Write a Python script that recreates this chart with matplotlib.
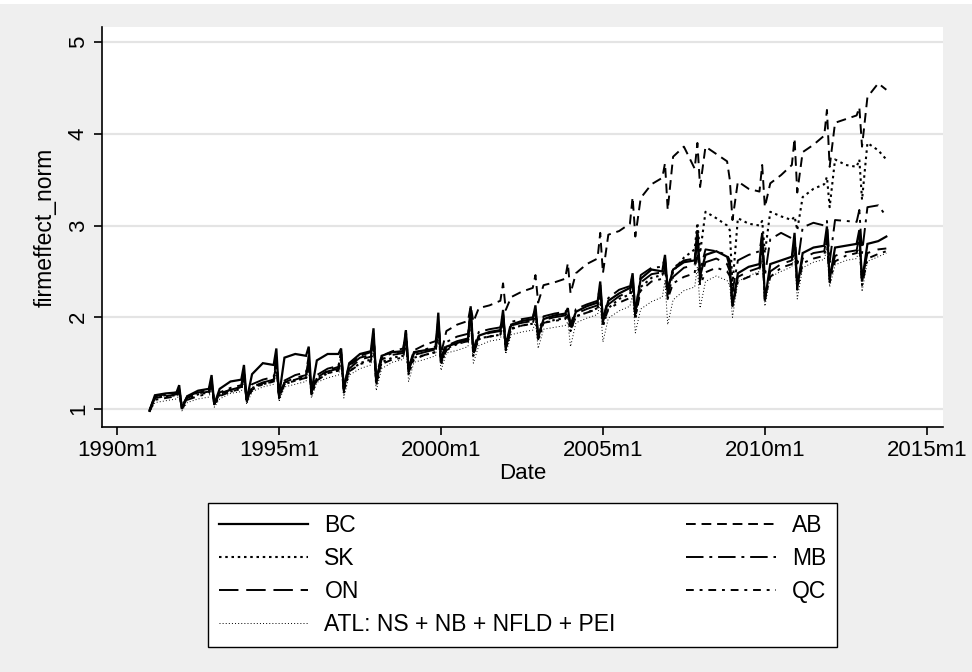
import numpy as np
import matplotlib
matplotlib.use("Agg")
import matplotlib.pyplot as plt
from matplotlib.patches import Rectangle

plt.rcParams["font.family"] = ["Liberation Sans", "DejaVu Sans"]

# x grid: months within each year (Jan, Mar, Jul, Nov, Dec); 2013 ends in Oct
years = list(range(1991, 2014))
months_full = [0, 2, 6, 10, 11]
months_last = [0, 2, 6, 9]

# values, one row per year
bc = [
    [0.98, 1.15, 1.17, 1.18, 1.26], [1.00, 1.14, 1.20, 1.22, 1.37],
    [1.05, 1.22, 1.30, 1.32, 1.48], [1.10, 1.38, 1.50, 1.48, 1.66],
    [1.14, 1.56, 1.60, 1.58, 1.68], [1.19, 1.53, 1.60, 1.60, 1.66],
    [1.22, 1.50, 1.60, 1.63, 1.88], [1.30, 1.58, 1.62, 1.63, 1.86],
    [1.42, 1.62, 1.64, 1.66, 2.05], [1.52, 1.68, 1.72, 1.76, 2.12],
    [1.62, 1.80, 1.84, 1.86, 2.08], [1.66, 1.92, 1.96, 1.98, 2.13],
    [1.78, 1.98, 2.02, 2.04, 2.10], [1.90, 2.06, 2.12, 2.16, 2.39],
    [1.97, 2.18, 2.26, 2.32, 2.48], [2.05, 2.42, 2.52, 2.50, 2.68],
    [2.30, 2.52, 2.60, 2.62, 2.95], [2.45, 2.68, 2.72, 2.66, 2.55],
    [2.12, 2.48, 2.55, 2.58, 2.92], [2.18, 2.58, 2.62, 2.66, 2.92],
    [2.32, 2.70, 2.76, 2.78, 2.99], [2.41, 2.76, 2.78, 2.80, 2.95],
    [2.39, 2.80, 2.83, 2.88],
]
ab = [
    [0.99, 1.14, 1.16, 1.18, 1.22], [1.03, 1.14, 1.18, 1.20, 1.30],
    [1.05, 1.17, 1.21, 1.24, 1.38], [1.10, 1.24, 1.28, 1.32, 1.50],
    [1.13, 1.29, 1.32, 1.36, 1.52], [1.18, 1.34, 1.42, 1.46, 1.62],
    [1.25, 1.48, 1.58, 1.62, 1.80], [1.35, 1.58, 1.63, 1.66, 1.85],
    [1.45, 1.64, 1.70, 1.74, 1.95], [1.60, 1.85, 1.92, 1.96, 2.12],
    [1.95, 2.10, 2.13, 2.18, 2.37], [2.08, 2.22, 2.28, 2.32, 2.46],
    [2.16, 2.35, 2.38, 2.42, 2.59], [2.26, 2.48, 2.58, 2.64, 2.92],
    [2.48, 2.90, 2.94, 3.02, 3.31], [2.88, 3.30, 3.45, 3.52, 3.68],
    [3.17, 3.75, 3.86, 3.62, 3.90], [3.42, 3.86, 3.78, 3.70, 3.50],
    [3.06, 3.48, 3.40, 3.37, 3.66], [3.20, 3.46, 3.55, 3.66, 3.95],
    [3.36, 3.80, 3.88, 3.98, 4.26], [3.64, 4.12, 4.16, 4.20, 4.29],
    [3.86, 4.40, 4.55, 4.48],
]
sk = [
    [0.98, 1.12, 1.14, 1.15, 1.20], [1.00, 1.11, 1.16, 1.18, 1.30],
    [1.05, 1.15, 1.19, 1.22, 1.38], [1.08, 1.23, 1.27, 1.30, 1.50],
    [1.12, 1.27, 1.31, 1.34, 1.52], [1.16, 1.32, 1.39, 1.42, 1.56],
    [1.18, 1.41, 1.50, 1.54, 1.75], [1.26, 1.51, 1.56, 1.58, 1.78],
    [1.38, 1.56, 1.59, 1.62, 1.90], [1.48, 1.66, 1.71, 1.74, 2.00],
    [1.58, 1.77, 1.79, 1.81, 1.98], [1.64, 1.88, 1.91, 1.93, 2.05],
    [1.75, 1.94, 1.97, 1.99, 2.02], [1.85, 2.01, 2.05, 2.10, 2.28],
    [1.90, 2.10, 2.20, 2.25, 2.38], [1.98, 2.33, 2.43, 2.46, 2.60],
    [2.20, 2.50, 2.65, 2.74, 3.03], [2.70, 3.15, 3.08, 3.00, 2.95],
    [2.35, 3.08, 3.02, 3.00, 3.05], [2.70, 3.15, 3.10, 3.06, 3.10],
    [2.95, 3.31, 3.40, 3.45, 3.53], [3.20, 3.72, 3.66, 3.64, 3.72],
    [3.28, 3.90, 3.82, 3.72],
]
mb = [
    [0.98, 1.13, 1.15, 1.17, 1.22], [1.02, 1.13, 1.19, 1.21, 1.32],
    [1.06, 1.18, 1.23, 1.26, 1.42], [1.10, 1.27, 1.32, 1.35, 1.55],
    [1.14, 1.31, 1.37, 1.40, 1.58], [1.18, 1.37, 1.44, 1.47, 1.60],
    [1.22, 1.47, 1.56, 1.59, 1.82], [1.32, 1.56, 1.61, 1.63, 1.82],
    [1.44, 1.61, 1.65, 1.68, 1.98], [1.55, 1.73, 1.79, 1.82, 2.05],
    [1.65, 1.84, 1.87, 1.89, 2.05], [1.70, 1.95, 1.98, 2.00, 2.10],
    [1.82, 2.01, 2.04, 2.06, 2.08], [1.92, 2.09, 2.14, 2.18, 2.35],
    [1.98, 2.21, 2.30, 2.34, 2.45], [2.06, 2.46, 2.54, 2.55, 2.65],
    [2.30, 2.54, 2.62, 2.64, 2.90], [2.50, 2.74, 2.72, 2.68, 2.62],
    [2.28, 2.62, 2.68, 2.72, 2.90], [2.45, 2.85, 2.92, 2.86, 2.88],
    [2.55, 2.98, 3.03, 3.00, 3.05], [2.60, 3.06, 3.05, 3.04, 3.17],
    [2.70, 3.20, 3.22, 3.10],
]
on = [
    [0.98, 1.12, 1.14, 1.16, 1.20], [1.02, 1.12, 1.17, 1.19, 1.30],
    [1.06, 1.16, 1.21, 1.24, 1.40], [1.10, 1.24, 1.29, 1.32, 1.55],
    [1.13, 1.29, 1.34, 1.37, 1.55], [1.18, 1.34, 1.41, 1.44, 1.60],
    [1.20, 1.44, 1.54, 1.57, 1.80], [1.30, 1.54, 1.59, 1.61, 1.80],
    [1.42, 1.59, 1.62, 1.65, 1.95], [1.52, 1.69, 1.74, 1.77, 2.05],
    [1.62, 1.79, 1.83, 1.85, 2.02], [1.68, 1.91, 1.94, 1.96, 2.08],
    [1.80, 1.97, 2.00, 2.02, 2.05], [1.90, 2.04, 2.09, 2.13, 2.30],
    [1.95, 2.14, 2.23, 2.28, 2.40], [2.02, 2.38, 2.47, 2.49, 2.60],
    [2.25, 2.44, 2.54, 2.57, 2.85], [2.40, 2.60, 2.64, 2.58, 2.50],
    [2.15, 2.44, 2.50, 2.54, 2.80], [2.20, 2.50, 2.58, 2.62, 2.85],
    [2.35, 2.64, 2.70, 2.72, 2.90], [2.42, 2.67, 2.71, 2.73, 2.88],
    [2.40, 2.70, 2.74, 2.75],
]
qc = [
    [0.97, 1.10, 1.12, 1.14, 1.18], [1.00, 1.10, 1.14, 1.17, 1.28],
    [1.04, 1.14, 1.19, 1.22, 1.35], [1.08, 1.21, 1.27, 1.30, 1.50],
    [1.12, 1.27, 1.31, 1.34, 1.50], [1.16, 1.31, 1.39, 1.42, 1.55],
    [1.20, 1.41, 1.49, 1.52, 1.75], [1.28, 1.49, 1.54, 1.56, 1.75],
    [1.40, 1.54, 1.59, 1.62, 1.90], [1.50, 1.64, 1.71, 1.74, 2.00],
    [1.60, 1.76, 1.79, 1.81, 1.98], [1.66, 1.87, 1.91, 1.93, 2.05],
    [1.76, 1.94, 1.96, 1.98, 2.02], [1.86, 2.01, 2.05, 2.09, 2.25],
    [1.92, 2.09, 2.16, 2.21, 2.35], [2.00, 2.29, 2.39, 2.42, 2.55],
    [2.20, 2.37, 2.44, 2.48, 2.75], [2.35, 2.49, 2.54, 2.50, 2.45],
    [2.12, 2.39, 2.44, 2.48, 2.75], [2.20, 2.44, 2.54, 2.58, 2.80],
    [2.30, 2.59, 2.64, 2.67, 2.85], [2.38, 2.61, 2.67, 2.70, 2.82],
    [2.35, 2.64, 2.69, 2.72],
]
atl = [
    [0.97, 1.07, 1.09, 1.11, 1.15], [0.98, 1.07, 1.11, 1.13, 1.22],
    [1.02, 1.11, 1.17, 1.19, 1.30], [1.05, 1.19, 1.24, 1.27, 1.40],
    [1.08, 1.24, 1.27, 1.30, 1.42], [1.12, 1.29, 1.34, 1.37, 1.48],
    [1.12, 1.37, 1.44, 1.48, 1.65], [1.20, 1.44, 1.51, 1.54, 1.70],
    [1.30, 1.51, 1.54, 1.58, 1.80], [1.42, 1.61, 1.64, 1.68, 1.90],
    [1.50, 1.69, 1.74, 1.76, 1.92], [1.60, 1.81, 1.84, 1.86, 1.95],
    [1.66, 1.87, 1.89, 1.91, 1.95], [1.68, 1.94, 1.99, 2.03, 2.15],
    [1.73, 1.99, 2.07, 2.12, 2.25], [1.83, 2.09, 2.17, 2.22, 2.40],
    [1.92, 2.19, 2.29, 2.33, 2.55], [2.10, 2.39, 2.45, 2.40, 2.35],
    [2.00, 2.39, 2.45, 2.50, 2.65], [2.12, 2.44, 2.50, 2.55, 2.70],
    [2.20, 2.54, 2.60, 2.63, 2.75], [2.33, 2.57, 2.62, 2.64, 2.75],
    [2.28, 2.61, 2.66, 2.70],
]

labels = ["BC", "AB", "SK", "MB", "ON", "QC", "ATL: NS + NB + NFLD + PEI"]
tick_years = [1990, 1995, 2000, 2005, 2010, 2015]

# Stata %tm style month index (months since 1960m1)
x = []
for y in years:
    ms = months_last if y == years[-1] else months_full
    x += [(y - 1960) * 12 + m for m in ms]
x = np.array(x)


def flat(rows):
    return np.array([v for r in rows for v in r])


series = [bc, ab, sk, mb, on, qc, atl]
styles = [
    dict(ls="-", lw=1.6),
    dict(ls=(0, (5, 3)), lw=1.4),
    dict(ls=(0, (1.2, 1.8)), lw=1.5),
    dict(ls=(0, (9, 3, 1.5, 3)), lw=1.4),
    dict(ls=(0, (10, 4)), lw=1.4),
    dict(ls=(0, (4, 3, 1.5, 3)), lw=1.4),
    dict(ls=(0, (1, 2.2)), lw=0.7),
]

bg = "#efefef"
fig = plt.figure(figsize=(9.72, 6.72), dpi=100, facecolor=bg)
fig.add_artist(Rectangle((0, 1 - 4 / 672), 1, 4 / 672, transform=fig.transFigure,
                         facecolor="white", edgecolor="none"))
ax = fig.add_axes([102 / 972, 1 - 427 / 672, 841 / 972, 400 / 672])
ax.set_facecolor("white")

handles = []
for vals, st in zip(series, styles):
    (h,) = ax.plot(x, flat(vals), color="black", solid_joinstyle="miter", **st)
    handles.append(h)

ax.set_xlim(354.4, 666)
ax.set_ylim(0.804, 5.164)
ax.set_xticks([(t - 1960) * 12 for t in tick_years])
ax.set_xticklabels([f"{t}m1" for t in tick_years])
ax.set_yticks([1, 2, 3, 4, 5])
ax.set_yticklabels(["1", "2", "3", "4", "5"], rotation=90, va="center")
ax.yaxis.grid(True, color="#e4e4e4", lw=1.6)
ax.set_axisbelow(True)
for s in ["top", "right"]:
    ax.spines[s].set_visible(False)
for s in ["left", "bottom"]:
    ax.spines[s].set_linewidth(1.2)
ax.tick_params(direction="out", length=5.5, width=1.2, labelsize=16, pad=4)
ax.set_ylabel("firmeffect_norm", fontsize=16.5, labelpad=8)
ax.set_xlabel("Date", fontsize=16, labelpad=1)

order = [0, 2, 4, 6, 1, 3, 5]
leg = fig.legend([handles[i] for i in order], [labels[i] for i in order],
                 ncol=2, loc="upper left", mode="expand",
                 bbox_to_anchor=(208 / 972, 1 - 644 / 672, 629 / 972, 141 / 672),
                 borderaxespad=0, fontsize=16.5, handlelength=3.9, handletextpad=0.7,
                 labelspacing=0.44, columnspacing=1.0, borderpad=0.48,
                 fancybox=False, frameon=True, edgecolor="black",
                 facecolor="white", framealpha=1)
leg.get_frame().set_linewidth(1.0)

fig.savefig("out.png", dpi=100, facecolor=bg)
